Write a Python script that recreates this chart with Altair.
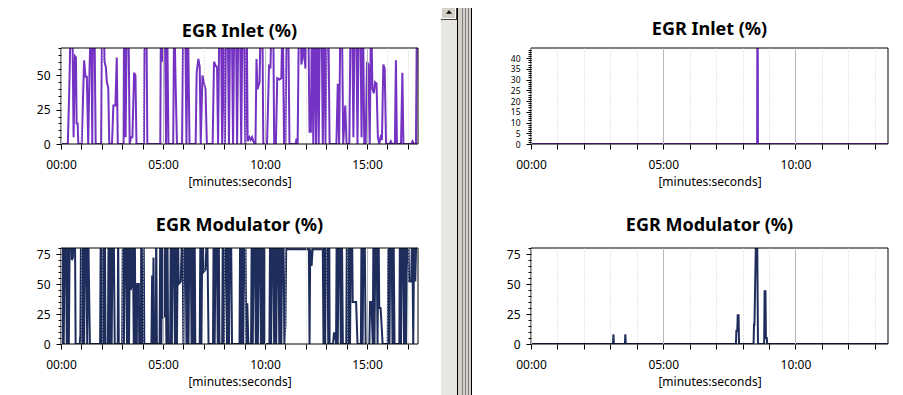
import altair as alt
import pandas as pd

# ---------------- data (time in seconds, value in %) ----------------
LT_SEC = [0, 20, 24, 26, 29, 33, 37, 41, 44, 46, 49, 51, 61, 68, 72, 76, 80, 84, 89, 92, 94, 98, 102,
          118, 121, 125, 128, 132, 135, 139, 142, 150, 154, 160, 164, 167, 184, 186, 190, 194, 198, 202,
          206, 210, 215, 219, 222, 244, 246, 251, 254, 292, 294, 298, 301, 305, 309, 312, 316, 330, 333,
          337, 341, 356, 360, 365, 369, 373, 378, 396, 399, 404, 408, 411, 416, 420, 425, 429, 446, 450,
          455, 459, 462, 466, 470, 474, 478, 482, 486, 490, 494, 498, 502, 506, 510, 514, 518, 522, 526,
          530, 534, 538, 542, 546, 549, 554, 558, 562, 566, 570, 572, 575, 578, 584, 588, 592, 595, 606,
          612, 616, 620, 624, 627, 632, 636, 642, 648, 652, 656, 660, 664, 668, 672, 690, 693, 696, 700,
          704, 707, 710, 713, 716, 719, 722, 727, 731, 735, 738, 742, 746, 750, 754, 758, 762, 766, 770,
          774, 778, 782, 786, 790, 810, 814, 818, 822, 826, 830, 836, 840, 848, 852, 856, 860, 864, 868,
          872, 876, 880, 884, 888, 892, 896, 900, 904, 908, 912, 916, 920, 924, 928, 932, 936, 940, 944,
          948, 952, 956, 966, 970, 974, 982, 985, 988, 1000, 1004, 1007, 1030, 1034, 1038, 1044, 1047, 1050]
LT_VAL = [0, 0, 36, 59, 100, 100, 5, 64, 63, 15, 15, 0, 0, 61, 49, 49, 0, 55, 100, 0, 100, 100, 0,
          0, 100, 100, 60, 56, 45, 41, 0, 0, 28, 28, 63, 0, 0, 100, 5, 100, 100, 0,
          5, 5, 52, 50, 0, 0, 100, 100, 0, 0, 100, 60, 100, 100, 0, 100, 0, 0, 100,
          45, 0, 0, 100, 100, 0, 100, 0, 0, 52, 62, 56, 0, 50, 45, 40, 0, 0, 60,
          57, 56, 0, 100, 100, 0, 100, 0, 100, 100, 0, 100, 100, 0, 100, 100, 0, 100, 100,
          0, 100, 100, 0, 100, 2, 5, 3, 5, 2, 0, 0, 62, 40, 45, 100, 100, 0, 0,
          58, 55, 100, 100, 0, 0, 48, 47, 48, 100, 0, 0, 100, 100, 0, 0, 4, 0, 100,
          100, 58, 62, 100, 64, 55, 100, 100, 9, 9, 100, 0, 100, 0, 100, 0, 100, 100, 0,
          100, 0, 100, 100, 0, 0, 44, 0, 100, 100, 0, 28, 0, 0, 100, 100, 5, 100, 100,
          0, 100, 100, 5, 100, 0, 0, 60, 58, 0, 100, 40, 37, 45, 44, 5, 0, 5, 3,
          58, 55, 0, 0, 2, 0, 0, 61, 0, 0, 52, 0, 0, 2, 0, 0, 100, 100]

LB_SEC = [0, 3, 5, 8, 11, 14, 17, 20, 23, 26, 29, 32, 35, 38, 41, 43,
          55, 57, 59, 62, 65, 68, 71, 74, 77, 80, 82, 85,
          115, 117, 120, 123, 126, 129, 131,
          138, 140, 143, 146, 149, 152, 155, 158,
          167, 168, 170,
          180, 182, 185, 188, 191, 194, 197, 200, 203, 205, 208, 211, 214, 217, 219,
          223, 224, 229, 230, 235, 236, 238, 242, 243, 245,
          266, 268, 270, 272, 274, 279, 280, 282,
          290, 292, 295, 298, 300, 304, 307, 310, 313, 315,
          321, 323, 326, 329, 332, 335, 338, 341, 344, 346, 352, 357, 360, 363, 366, 369, 372, 375, 378,
          381, 384, 387, 390, 393, 395,
          408, 410, 413, 416, 419, 425, 430, 434, 437,
          447, 449, 452, 455, 458, 461, 464, 466,
          474, 476, 479, 482, 485, 488, 491, 494, 497, 500, 503, 505,
          525, 527, 530, 533, 536, 539, 542, 545, 548, 551,
          559, 561, 564, 567, 570, 573, 576, 579, 582, 585, 588, 591, 594, 597, 599,
          613, 615, 618, 621, 624, 627, 630, 633, 636, 639, 642, 645, 648, 651, 654, 657, 660, 663, 667,
          726, 729, 731, 733, 737, 740, 770,
          772, 774, 777, 780, 783, 786, 789, 790,
          800, 803, 806, 809,
          811, 814, 817, 820, 823, 826, 829,
          839, 841, 844, 847, 850, 853, 856, 858, 868, 872,
          882, 884, 887, 890, 893, 896,
          907, 909, 913, 917, 919, 922, 925, 928, 931, 934, 936, 940, 946,
          961, 963, 966, 969, 972, 975, 978, 981,
          995, 997, 1000, 1003, 1006, 1009, 1012, 1015, 1018, 1021, 1024, 1030, 1033, 1036, 1039, 1042,
          1046, 1050]
LB_VAL = [0, 0, 100, 0, 100, 100, 0, 100, 0, 100, 100, 70, 72, 100, 100, 0,
          0, 8, 100, 0, 100, 0, 100, 100, 0, 100, 58, 0,
          0, 100, 0, 100, 0, 100, 0,
          0, 100, 0, 100, 0, 100, 100, 0,
          0, 100, 0,
          0, 100, 0, 100, 100, 0, 100, 0, 100, 45, 50, 100, 0, 100, 0,
          0, 50, 50, 0, 0, 100, 0, 0, 100, 0,
          0, 57, 0, 72, 0, 0, 100, 0,
          0, 100, 0, 100, 22, 23, 100, 0, 100, 0,
          0, 100, 0, 100, 100, 0, 100, 0, 100, 50, 52, 100, 0, 100, 100, 0, 100, 0, 100,
          100, 0, 100, 0, 100, 0,
          0, 100, 0, 100, 60, 62, 100, 0, 0,
          0, 100, 0, 100, 100, 0, 100, 0,
          0, 100, 0, 100, 100, 0, 100, 0, 100, 100, 0, 0,
          0, 100, 0, 100, 0, 100, 100, 0, 34, 0,
          0, 100, 0, 100, 100, 0, 100, 0, 100, 100, 0, 100, 0, 100, 0,
          0, 100, 0, 100, 100, 0, 100, 0, 100, 100, 0, 100, 0, 100, 100, 0, 16, 100, 79,
          79, 79, 0, 79, 65, 79, 79,
          0, 100, 0, 100, 100, 0, 100, 0,
          0, 9, 9, 0,
          100, 0, 100, 100, 0, 100, 0,
          0, 100, 0, 100, 0, 100, 100, 35, 35, 0,
          0, 100, 0, 100, 100, 0,
          0, 35, 35, 0, 100, 0, 100, 100, 0, 100, 30, 30, 0,
          0, 100, 0, 100, 100, 0, 100, 0,
          0, 100, 0, 100, 100, 0, 100, 0, 100, 100, 52, 52, 100, 0, 100, 52,
          100, 80]

RT_SEC = [0, 513, 514, 515, 810]
RT_VAL = [0, 0, 100, 0, 0]

RB_SEC = [0, 186, 187, 188, 213, 214, 215, 465, 466, 468, 469, 471, 472, 505, 506, 507, 511, 513,
          515, 529, 530, 532, 533, 535, 536, 810]
RB_VAL = [0, 0, 8, 0, 0, 8, 0, 0, 11, 11, 24, 24, 0, 0, 16, 16, 100, 100,
          0, 0, 44, 44, 5, 5, 0, 0]

TITLE_INLET = "EGR Inlet (%)"
TITLE_MOD = "EGR Modulator (%)"
X_TITLE = "[minutes:seconds]"
LEFT_XTICKS = [0, 60, 120, 180, 240, 300, 360, 420, 480, 540, 600, 660, 720, 780, 840, 900, 960, 1020]
RIGHT_XTICKS = [0, 60, 120, 180, 240, 300, 360, 420, 480, 540, 600, 660, 720, 780]
YT_LEFT = [0, 5, 10, 15, 20, 25, 30, 35, 40, 45, 50, 55, 60, 65, 70]
YT_MOD = [0, 5, 10, 15, 20, 25, 30, 35, 40, 45, 50, 55, 60, 65, 70, 75, 80]
YT_RIGHT = list(range(0, 45))

# ---------------- style ----------------
PURPLE = "#7433c2"
NAVY = "#1e2d5c"
GRAY = "#d4d0c8"
FONT = "Noto Sans"
W, H = 357, 96
OX, OY = 53, 40  # top-left plot origin inside the chart (for window decorations)
FULL_H = 387
ONE = alt.Data(values=[{}])

X_LABEL_EXPR = ("datum.value % 300 === 0 ? (datum.value < 600 ? '0' : '') + "
                "(datum.value / 60) + ':00' : ''")


def xaxis(ticks):
    return alt.Axis(
        values=ticks, title=X_TITLE, labelExpr=X_LABEL_EXPR, tickSize=5,
        labelPadding=10, titlePadding=6, grid=True, domain=False, zindex=1,
        labelFlush=False, labelOverlap=False,
        gridColor={"condition": {"test": "datum.value % 300 === 0", "value": "#b8b8b8"},
                   "value": "#cfcfcf"},
        gridDash={"condition": {"test": "datum.value % 300 === 0", "value": []},
                  "value": [1, 2]},
    )


def yaxis(ticks, major, fs=12):
    return alt.Axis(
        values=ticks, title=None, grid=False, domain=False, labelPadding=6, zindex=1,
        labelOverlap=False, labelFlush=False, labelFontSize=fs,
        labelExpr=f"datum.value % {major} === 0 ? datum.label : ''",
        tickSize={"condition": {"test": f"datum.value % {major} === 0", "value": 5},
                  "value": 3},
    )


def line(sec, val, color, xmax, ymax, xticks, yticks, major, fs=12):
    df = pd.DataFrame({"sec": sec, "val": val})
    return alt.Chart(df).mark_line(color=color, strokeWidth=2, clip=True).encode(
        x=alt.X("sec:Q", scale=alt.Scale(domain=[0, xmax], nice=False, zero=False),
                axis=xaxis(xticks)),
        y=alt.Y("val:Q", scale=alt.Scale(domain=[0, ymax], nice=False, zero=False),
                axis=yaxis(yticks, major, fs)),
    )


def frame():
    return alt.Chart(ONE).mark_rect(filled=False, stroke="black", strokeWidth=1).encode(
        x=alt.value(0), x2=alt.value(W), y=alt.value(0), y2=alt.value(H))


def box(x0, y0, x1, y1, color):
    return alt.Chart(ONE).mark_rect(color=color).encode(
        x=alt.value(x0 - OX), x2=alt.value(x1 - OX),
        y=alt.value(y0 - OY), y2=alt.value(y1 - OY))


decor = [
    box(0, 0, 887, FULL_H, GRAY),
    box(0, 0, 433, FULL_H, "#ffffff"),
    box(433, 0, 449, 12, "#404040"),
    box(433, 0, 448, 11, "#ffffff"),
    box(434, 0, 447, 10, GRAY),
    box(433, 12, 449, FULL_H, "#e8e6e1"),
    box(449, 0, 450, FULL_H, "#000000"),
    box(454, 0, 455, FULL_H, "#808080"),
    box(457, 0, 458, FULL_H, "#808080"),
    box(460, 0, 461, FULL_H, "#808080"),
    box(463, 0, 464, FULL_H, "#000000"),
    box(464, 0, 887, FULL_H, "#ffffff"),
    alt.Chart(ONE).mark_point(shape="M-1,0.6L1,0.6L0,-0.6Z", filled=True, color="black",
                              size=36, opacity=1).encode(
        x=alt.value(441 - OX), y=alt.value(4 - OY)),
]


def panel(layers, title, offset=7):
    return alt.layer(*layers).properties(
        width=W, height=H, title=alt.TitleParams(title, offset=offset))


# the top-left panel carries the window decorations, which reach 40px above its plot
TL = panel(decor + [line(LT_SEC, LT_VAL, PURPLE, 1050, 70, LEFT_XTICKS, YT_LEFT, 25), frame()],
           TITLE_INLET, offset=7 - OY)
TR = panel([line(RT_SEC, RT_VAL, PURPLE, 810, 44.7, RIGHT_XTICKS, YT_RIGHT, 5, 8.5), frame()],
           TITLE_INLET)
BL = panel([line(LB_SEC, LB_VAL, NAVY, 1050, 80, LEFT_XTICKS, YT_MOD, 25), frame()], TITLE_MOD)
BR = panel([line(RB_SEC, RB_VAL, NAVY, 810, 80, RIGHT_XTICKS, YT_MOD, 25), frame()], TITLE_MOD)

chart = alt.concat(
    TL, TR, BL, BR, columns=2, spacing={"row": 104, "column": 113}, bounds="flush",
).properties(padding=0, background=GRAY).configure_view(strokeWidth=0).configure_axis(
    labelFont=FONT, labelFontSize=12, labelColor="black", tickColor="black",
    titleFont=FONT, titleFontSize=12, titleFontWeight="normal", titleColor="black",
).configure_title(
    font=FONT, fontSize=18, fontWeight="bold", color="black", anchor="middle",
    frame="group",
)

chart.save("out.html", embed_options={"renderer": "svg", "actions": False})
